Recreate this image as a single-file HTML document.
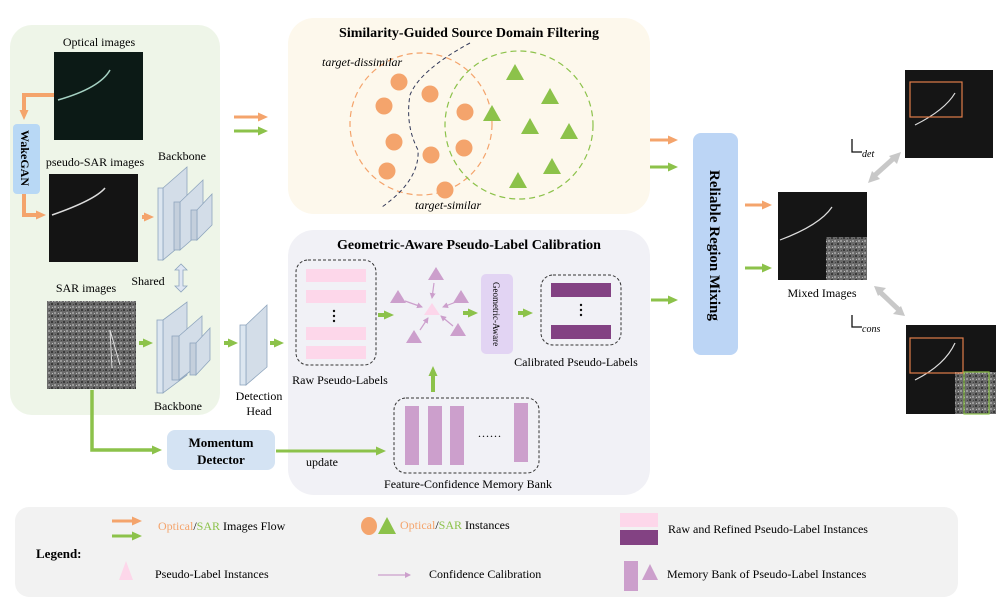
<!DOCTYPE html>
<html><head><meta charset="utf-8"><style>
body{margin:0;background:#fff}
svg{display:block;font-family:"Liberation Serif",serif}
</style></head><body>
<svg width="996" height="613" viewBox="0 0 996 613" xmlns="http://www.w3.org/2000/svg">
<defs>
<marker id="ao" markerWidth="10" markerHeight="10" refX="4" refY="5" orient="auto" markerUnits="userSpaceOnUse"><path d="M0,0.5 L10,5 L0,9.5 z" fill="#f4a46c"/></marker>
<marker id="ag" markerWidth="10" markerHeight="10" refX="4" refY="5" orient="auto" markerUnits="userSpaceOnUse"><path d="M0,0.5 L10,5 L0,9.5 z" fill="#8cc24a"/></marker>
<marker id="ap" markerWidth="6" markerHeight="6" refX="5" refY="3" orient="auto" markerUnits="userSpaceOnUse"><path d="M0,0 L6,3 L0,6 z" fill="#cc9fcc"/></marker>
<pattern id="noise" width="6" height="6" patternUnits="userSpaceOnUse"><rect width="6" height="6" fill="#6a6a6a"/><rect x="0" y="0" width="2" height="2" fill="#9a9a9a"/><rect x="3" y="3" width="2" height="2" fill="#3a3a3a"/><rect x="4" y="1" width="1" height="1" fill="#bbb"/><rect x="1" y="4" width="1" height="1" fill="#444"/></pattern>
</defs>
<rect x="10" y="25" width="210" height="390" rx="22" fill="#eef5e8"/>
<rect x="288" y="18" width="362" height="196" rx="26" fill="#fdf8ec"/>
<rect x="288" y="230" width="362" height="265" rx="26" fill="#f1f1f6"/>
<rect x="15" y="507" width="943" height="90" rx="14" fill="#f2f2f2"/>

<text x="99" y="46" font-size="12" text-anchor="middle">Optical images</text>
<rect x="54" y="52" width="89" height="88" fill="#0c1a16"/>
<path d="M58,100 Q100,88 110,70" stroke="#cfe" stroke-width="1.5" fill="none" opacity=".8"/>
<path d="M54,95 H24 V114" stroke="#f4a46c" stroke-width="4" fill="none" marker-end="url(#ao)"/>
<rect x="13" y="124" width="27" height="70" rx="4" fill="#b8d8f5"/>
<text transform="translate(21,130) rotate(90)" font-size="12" font-weight="bold">WakeGAN</text>
<path d="M24,194 V215 H40" stroke="#f4a46c" stroke-width="4" fill="none" marker-end="url(#ao)"/>
<text x="95" y="166" font-size="12" text-anchor="middle">pseudo-SAR images</text>
<rect x="49" y="174" width="89" height="88" fill="#141414"/>
<path d="M52,215 Q95,200 105,188" stroke="#ddd" stroke-width="1.5" fill="none"/>
<text x="182" y="160" font-size="12" text-anchor="middle">Backbone</text>
<g fill="#d3dde8" stroke="#8ea5bd" stroke-width="0.8">
<path d="M163,188 L187,167 L187,240 L163,260 z"/><rect x="158" y="188" width="5" height="72" fill="#dce6f0"/>
<path d="M180,202 L203,180 L203,230 L180,250 z"/><rect x="174" y="202" width="6" height="48" fill="#c4cfdc"/>
<path d="M197,210 L212,194 L212,225 L197,240 z"/><rect x="191" y="210" width="6" height="30" fill="#c4cfdc"/>
</g>
<path d="M142,217 H148" stroke="#f4a46c" stroke-width="4" marker-end="url(#ao)"/>
<text x="148" y="285" font-size="12" text-anchor="middle">Shared</text>
<path d="M181,264 l-6,6 h4 v16 h-4 l6,6 l6,-6 h-4 v-16 h4 z" fill="#dfe6f3" stroke="#8ea5bd" stroke-width="0.8"/>
<text x="86" y="292" font-size="12" text-anchor="middle">SAR images</text>
<rect x="47" y="301" width="89" height="88" fill="url(#noise)"/>
<path d="M110,330 L120,365 M110,330 L112,368" stroke="#ddd" stroke-width="1"/>
<g fill="#d3dde8" stroke="#8ea5bd" stroke-width="0.8">
<path d="M163,320 L187,302 L187,375 L163,393 z"/><rect x="157" y="320" width="6" height="73" fill="#dce6f0"/>
<path d="M179,336 L202,316 L202,362 L179,380 z"/><rect x="172" y="336" width="7" height="44" fill="#c4cfdc"/>
<path d="M196,343 L210,328 L210,360 L196,375 z"/><rect x="190" y="343" width="6" height="32" fill="#c4cfdc"/>
</g>
<path d="M139,343 H147" stroke="#8cc24a" stroke-width="4" marker-end="url(#ag)"/>
<text x="178" y="410" font-size="12" text-anchor="middle">Backbone</text>
<path d="M224,343 H232" stroke="#8cc24a" stroke-width="4" marker-end="url(#ag)"/>
<g fill="#d3dde8" stroke="#8ea5bd" stroke-width="0.8">
<path d="M246,325 L267,305 L267,367 L246,385 z"/><rect x="240" y="325" width="6" height="60" fill="#dce6f0"/>
</g>
<path d="M270,343 H278" stroke="#8cc24a" stroke-width="4" marker-end="url(#ag)"/>
<text x="259" y="400" font-size="12" text-anchor="middle">Detection</text>
<text x="259" y="415" font-size="12" text-anchor="middle">Head</text>

<path d="M92,390 V450 H156" stroke="#8cc24a" stroke-width="3.5" fill="none" marker-end="url(#ag)"/>
<rect x="167" y="430" width="108" height="40" rx="8" fill="#d4e3f3"/>
<text x="221" y="447" font-size="13" font-weight="bold" text-anchor="middle">Momentum</text>
<text x="221" y="464" font-size="13" font-weight="bold" text-anchor="middle">Detector</text>
<path d="M276,451 H380" stroke="#8cc24a" stroke-width="3" fill="none" marker-end="url(#ag)"/>
<text x="322" y="466" font-size="12" text-anchor="middle">update</text>

<path d="M234,117 H262" stroke="#f4a46c" stroke-width="3" marker-end="url(#ao)"/>
<path d="M234,131 H262" stroke="#8cc24a" stroke-width="3" marker-end="url(#ag)"/>

<text x="469" y="37" font-size="14" font-weight="bold" text-anchor="middle">Similarity-Guided Source Domain Filtering</text>
<circle cx="421" cy="124" r="71" fill="none" stroke="#f4a46c" stroke-width="1.2" stroke-dasharray="6,4"/>
<circle cx="519" cy="125" r="74" fill="none" stroke="#8cc24a" stroke-width="1.2" stroke-dasharray="6,4"/>
<path d="M470,43 Q420,70 410,95 Q405,125 418,150 Q420,180 382,207" fill="none" stroke="#333a5a" stroke-width="1" stroke-dasharray="4,3"/>
<text x="322" y="66" font-size="12" font-style="italic">target-dissimilar</text>
<text x="415" y="209" font-size="12" font-style="italic">target-similar</text>
<g fill="#f4a46c">
<circle cx="399" cy="82" r="8.5"/><circle cx="430" cy="94" r="8.5"/><circle cx="384" cy="106" r="8.5"/><circle cx="465" cy="112" r="8.5"/><circle cx="394" cy="142" r="8.5"/><circle cx="431" cy="155" r="8.5"/><circle cx="464" cy="148" r="8.5"/><circle cx="387" cy="171" r="8.5"/><circle cx="445" cy="190" r="8.5"/>
</g>
<g fill="#8cc24a">
<path d="M515,64 l9,16 h-18z"/><path d="M550,88 l9,16 h-18z"/><path d="M492,105 l9,16 h-18z"/><path d="M530,118 l9,16 h-18z"/><path d="M569,123 l9,16 h-18z"/><path d="M552,158 l9,16 h-18z"/><path d="M518,172 l9,16 h-18z"/>
</g>

<text x="469" y="249" font-size="14" font-weight="bold" text-anchor="middle">Geometric-Aware Pseudo-Label Calibration</text>
<rect x="296" y="260" width="80" height="105" rx="12" fill="none" stroke="#333" stroke-dasharray="3,2"/>
<g fill="#fdd7ea"><rect x="306" y="269" width="60" height="13"/><rect x="306" y="290" width="60" height="13"/><rect x="306" y="327" width="60" height="13"/><rect x="306" y="346" width="60" height="13"/></g>
<g fill="#111"><circle cx="334" cy="311" r="1.2"/><circle cx="334" cy="316" r="1.2"/><circle cx="334" cy="321" r="1.2"/></g>
<text x="340" y="384" font-size="12" text-anchor="middle">Raw Pseudo-Labels</text>
<path d="M378,315 H388" stroke="#8cc24a" stroke-width="4" marker-end="url(#ag)"/>
<g fill="#cc9fcc"><path d="M436,267 l8,13 h-16z"/><path d="M398,290 l8,13 h-16z"/><path d="M461,290 l8,13 h-16z"/><path d="M414,330 l8,13 h-16z"/><path d="M458,323 l8,13 h-16z"/></g>
<path d="M432,303 l8,12 h-16z" fill="#fcd6ea"/>
<g stroke="#cc9fcc" stroke-width="1.2" marker-end="url(#ap)"><path d="M434,283 L432,298"/><path d="M405,301 L422,307"/><path d="M456,302 L443,307"/><path d="M420,330 L428,318"/><path d="M453,326 L441,316"/></g>
<path d="M463,313 H472" stroke="#8cc24a" stroke-width="4" marker-end="url(#ag)"/>
<rect x="481" y="274" width="32" height="80" rx="5" fill="#e2d4f3"/>
<text transform="translate(493,282) rotate(90)" font-size="9">Geometric-Aware</text>
<path d="M518,313 H527" stroke="#8cc24a" stroke-width="4" marker-end="url(#ag)"/>
<rect x="541" y="275" width="80" height="70" rx="12" fill="none" stroke="#333" stroke-dasharray="3,2"/>
<g fill="#834283"><rect x="551" y="283" width="60" height="14"/><rect x="551" y="325" width="60" height="14"/></g>
<g fill="#111"><circle cx="581" cy="305" r="1.2"/><circle cx="581" cy="310" r="1.2"/><circle cx="581" cy="315" r="1.2"/></g>
<text x="576" y="366" font-size="12" text-anchor="middle">Calibrated Pseudo-Labels</text>
<path d="M433,392 V372" stroke="#8cc24a" stroke-width="4" marker-end="url(#ag)"/>
<rect x="394" y="398" width="145" height="75" rx="12" fill="none" stroke="#333" stroke-dasharray="3,2"/>
<g fill="#cc9fcc"><rect x="405" y="406" width="14" height="59"/><rect x="428" y="406" width="14" height="59"/><rect x="450" y="406" width="14" height="59"/><rect x="514" y="403" width="14" height="59"/></g>
<text x="490" y="437" font-size="12" text-anchor="middle" letter-spacing="1">......</text>
<text x="468" y="488" font-size="12" text-anchor="middle">Feature-Confidence Memory Bank</text>

<path d="M650,140 H672" stroke="#f4a46c" stroke-width="3" marker-end="url(#ao)"/>
<path d="M650,167 H672" stroke="#8cc24a" stroke-width="3" marker-end="url(#ag)"/>
<path d="M651,300 H672" stroke="#8cc24a" stroke-width="3" marker-end="url(#ag)"/>
<rect x="693" y="133" width="45" height="222" rx="8" fill="#bcd5f5"/>
<text transform="translate(710,170) rotate(90)" font-size="15" font-weight="bold">Reliable Region Mixing</text>
<path d="M745,205 H766" stroke="#f4a46c" stroke-width="3" marker-end="url(#ao)"/>
<path d="M745,268 H766" stroke="#8cc24a" stroke-width="3" marker-end="url(#ag)"/>
<rect x="778" y="192" width="89" height="88" fill="#151515"/>
<path d="M780,240 Q820,225 832,207" stroke="#ddd" stroke-width="1.2" fill="none"/>
<rect x="826" y="237" width="41" height="43" fill="url(#noise)"/>
<text x="822" y="297" font-size="12" text-anchor="middle">Mixed Images</text>
<rect x="905" y="70" width="88" height="88" fill="#151515"/>
<path d="M915,125 Q945,110 955,93" stroke="#ddd" stroke-width="1.2" fill="none"/>
<rect x="910" y="82" width="52" height="35" fill="none" stroke="#e07d4a" stroke-width="1.2"/>
<rect x="906" y="325" width="90" height="89" fill="#151515"/>
<path d="M915,380 Q945,365 955,343" stroke="#ddd" stroke-width="1.2" fill="none"/>
<rect x="955" y="372" width="41" height="42" fill="url(#noise)"/>
<rect x="910" y="338" width="53" height="35" fill="none" stroke="#e07d4a" stroke-width="1.2"/>
<rect x="964" y="372" width="25" height="42" fill="none" stroke="#8cc24a" stroke-width="1.2"/>
<g stroke="#c8c8c8" stroke-width="5" fill="none"><path d="M874,176 L894,158"/><path d="M880,292 L899,310"/></g>
<g fill="#c8c8c8"><path d="M868,183 l4,-12 l8,8z"/><path d="M901,152 l-4,12 l-8,-8z"/><path d="M874,286 l12,2 l-8,8z"/><path d="M905,316 l-12,-2 l8,-8z"/></g>
<path d="M852,139 V152 H862" stroke="#111" stroke-width="1.3" fill="none"/>
<text x="862" y="157" font-size="10" font-style="italic">det</text>
<path d="M852,315 V327 H862" stroke="#111" stroke-width="1.3" fill="none"/>
<text x="862" y="332" font-size="10" font-style="italic">cons</text>

<text x="36" y="558" font-size="13" font-weight="bold">Legend:</text>
<path d="M112,521 H136" stroke="#f4a46c" stroke-width="3" marker-end="url(#ao)"/>
<path d="M112,536 H136" stroke="#8cc24a" stroke-width="3" marker-end="url(#ag)"/>
<text x="158" y="530" font-size="12"><tspan fill="#f4a46c">Optical</tspan>/<tspan fill="#8cc24a">SAR</tspan> Images Flow</text>
<ellipse cx="369" cy="526" rx="8" ry="9" fill="#f4a46c"/>
<path d="M387,517 l9,17 h-18z" fill="#8cc24a"/>
<text x="400" y="529" font-size="12"><tspan fill="#f4a46c">Optical</tspan>/<tspan fill="#8cc24a">SAR</tspan> Instances</text>
<rect x="620" y="513" width="38" height="14" fill="#fdd7ea"/>
<rect x="620" y="530" width="38" height="15" fill="#834283"/>
<text x="668" y="533" font-size="12">Raw and Refined  Pseudo-Label Instances</text>
<path d="M126,561 l7,19 h-14z" fill="#fdd7ea"/>
<text x="155" y="578" font-size="12">Pseudo-Label Instances</text>
<path d="M378,575 H410" stroke="#cc9fcc" stroke-width="1.3" marker-end="url(#ap)"/>
<text x="429" y="578" font-size="12">Confidence Calibration</text>
<rect x="624" y="561" width="14" height="30" fill="#cc9fcc"/>
<path d="M650,564 l8,16 h-16z" fill="#cc9fcc"/>
<text x="667" y="578" font-size="12">Memory Bank of Pseudo-Label Instances</text>
</svg>
</body></html>
